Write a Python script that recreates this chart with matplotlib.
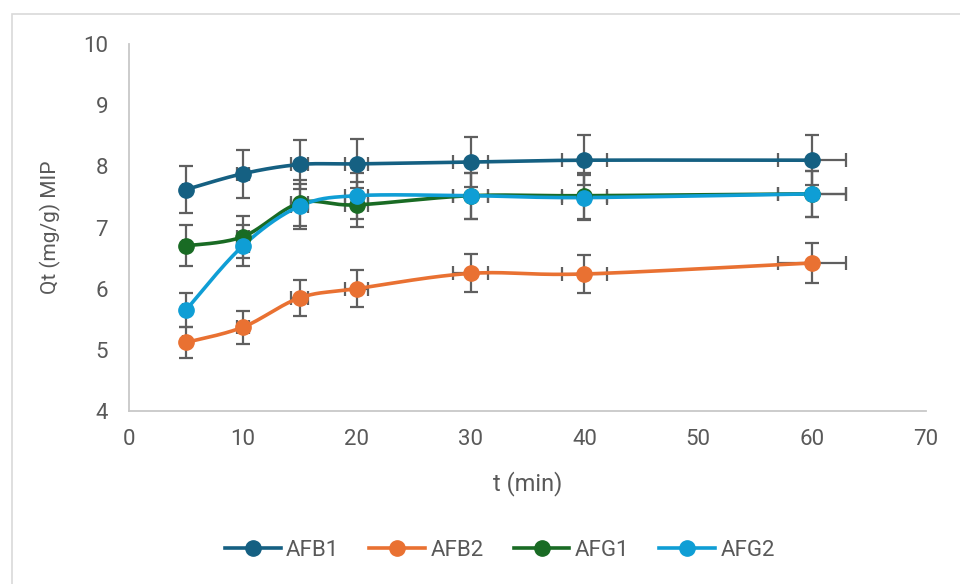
import numpy as np
import matplotlib.pyplot as plt
from matplotlib.patches import Rectangle

plt.rcParams['font.family'] = ['Roboto', 'DejaVu Sans']

t_min = [5, 10, 15, 20, 30, 40, 60]
afb1 = [7.62, 7.88, 8.03, 8.04, 8.07, 8.10, 8.10]
afb2 = [5.12, 5.37, 5.85, 6.00, 6.25, 6.24, 6.42]
afg1 = [6.70, 6.85, 7.40, 7.37, 7.52, 7.52, 7.55]
afg2 = [5.65, 6.70, 7.35, 7.52, 7.52, 7.49, 7.55]
names = ["AFB1", "AFB2", "AFG1", "AFG2"]
colors = ["#156082", "#E97132", "#196B24", "#0F9ED5"]
err_pct = 0.05  # Excel percentage error bars, both axes

TEXT = "#595959"
AXIS = "#c8c8c8"


def smooth(x, y, n=30):
    """Excel-like smoothed line: cubic Bezier through points."""
    p = np.column_stack([x, y]).astype(float)
    out = [p[0]]
    for i in range(len(p) - 1):
        p0 = p[i - 1] if i > 0 else p[i]
        p1, p2 = p[i], p[i + 1]
        p3 = p[i + 2] if i + 2 < len(p) else p[i + 1]
        c1 = p1 + (p2 - p0) / 6
        c2 = p2 - (p3 - p1) / 6
        s = np.linspace(0, 1, n)[1:, None]
        seg = ((1 - s) ** 3) * p1 + 3 * ((1 - s) ** 2) * s * c1 \
            + 3 * (1 - s) * s ** 2 * c2 + s ** 3 * p2
        out.extend(seg)
    out = np.array(out)
    return out[:, 0], out[:, 1]


fig = plt.figure(figsize=(9.6, 5.84), dpi=100)
fig.patches.append(Rectangle((12 / 960, -0.1), 2, 1 - 14 / 584 + 0.1,
                             transform=fig.transFigure, fill=False,
                             edgecolor="#d9d9d9", linewidth=1.2))
ax = fig.add_axes([129 / 960, 1 - 411 / 584, 797 / 960, 367 / 584])

x = np.array(t_min, dtype=float)
handles = []
for name, col, vals in zip(names, colors, [afb1, afb2, afg1, afg2]):
    y = np.array(vals)
    xs, ys = smooth(x, y)
    ax.errorbar(x, y, yerr=err_pct * y, xerr=err_pct * x, fmt="none",
                ecolor="#5f5f5f", elinewidth=1.6, capsize=5, capthick=1.6,
                zorder=2)
    ax.plot(xs, ys, color=col, linewidth=2.6, solid_capstyle="round", zorder=3)
    ax.plot(x, y, "o", color=col, markersize=11, zorder=4)
    h, = ax.plot([], [], color=col, linewidth=2.6, marker="o", markersize=11,
                 label=name)
    handles.append(h)

ax.set_xlim(0, 70)
ax.set_ylim(4, 10)
ax.set_xticks(range(0, 71, 10))
ax.set_yticks(range(4, 11))
for side in ["top", "right"]:
    ax.spines[side].set_visible(False)
for side in ["left", "bottom"]:
    ax.spines[side].set_color(AXIS)
    ax.spines[side].set_linewidth(1.3)
ax.tick_params(length=0, labelsize=16, labelcolor=TEXT)
ax.tick_params(axis="y", pad=15)
ax.tick_params(axis="x", pad=13)
ax.set_xlabel("t (min)", fontsize=17, color=TEXT, labelpad=15)
ax.set_ylabel("Qt (mg/g) MIP", fontsize=15, color=TEXT, labelpad=16)

fig.legend(handles=handles, loc="center",
           bbox_to_anchor=(500 / 960, 1 - 550 / 584),
           ncol=4, frameon=False, fontsize=16, labelcolor=TEXT,
           handlelength=2.5, handletextpad=0.25, columnspacing=1.35)

fig.savefig("out.png", dpi=100)
